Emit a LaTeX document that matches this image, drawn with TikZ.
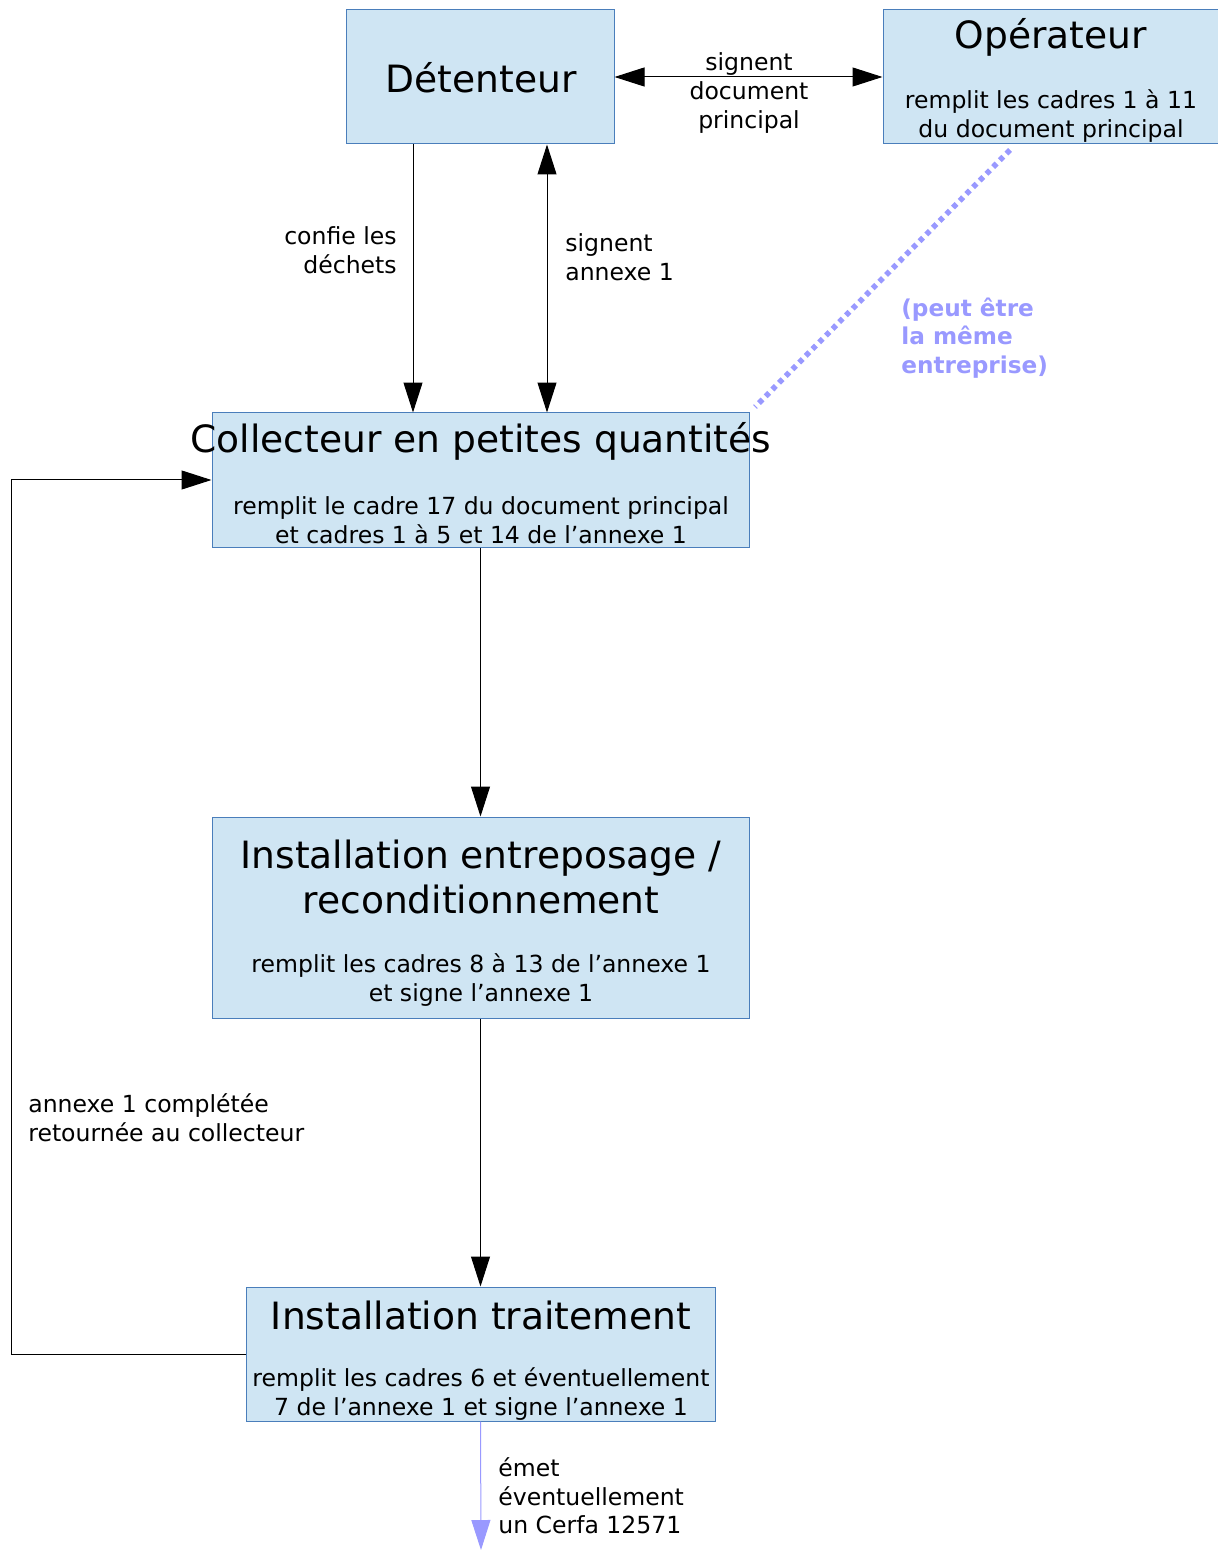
\documentclass[tikz,border=0pt]{standalone}
\usepackage{fontspec}
\setmainfont{DejaVu Sans}
\usetikzlibrary{arrows.meta,fit}

\definecolor{boxfill}{HTML}{CFE5F3}
\definecolor{boxline}{HTML}{4A7EBB}
\definecolor{lavender}{HTML}{9999FF}

\tikzset{
  box/.style={draw=boxline, fill=boxfill, line width=0.02cm, inner sep=0pt},
  title/.style={font=\fontsize{21.4}{25.6}\selectfont, align=center, inner sep=0pt},
  small/.style={font=\fontsize{13.4}{16.3}\selectfont, inner sep=0pt},
  conn/.style={line width=0.02cm},
}

\begin{document}
\begin{tikzpicture}[x=0.02cm, y=-0.02cm, >={Triangle[length=0.6cm,width=0.38cm]}]
\useasboundingbox (0,0) rectangle (1217,1550);

% boxes
\node (dete) [box, fit={(346,10) (614,144)}] {};
\node (oper) [box, fit={(883,10) (1218,144)}] {};
\node (coll) [box, fit={(212,413) (749,547)}] {};
\node (entr) [box, fit={(212,817) (749,1018)}] {};
\node (trait) [box, fit={(246,1287) (715,1421)}] {};

% box texts
\node (deteT) [title] at (481,78) {Détenteur};
\node (operT) [title] at (1051,37) {Opérateur};
\node (operS) [small, align=center] at (1051,116) {remplit les cadres 1 à 11\\du document principal};
\node (collT) [title] at (481,441) {Collecteur en petites quantités};
\node (collS) [small, align=center] at (481,520) {remplit le cadre 17 du document principal\\et cadres 1 à 5 et 14 de l’annexe 1};
\node (entrT) [title] at (481,877) {Installation entreposage /\\reconditionnement};
\node (entrS) [small, align=center] at (481,980) {remplit les cadres 8 à 13 de l’annexe 1\\et signe l’annexe 1};
\node (traitT) [title] at (481,1315) {Installation traitement};
\node (traitS) [small, align=center] at (481,1394) {remplit les cadres 6 et éventuellement\\7 de l’annexe 1 et signe l’annexe 1};

% connectors
\coordinate (xa) at (413,0);
\coordinate (xb) at (547,0);
\coordinate (ret) at (11,0);
\coordinate (cerfa) at (481,1550);
\coordinate (d1) at (1010,150);
\coordinate (d2) at (755,407);

\draw[conn, <->] (dete.east) -- (oper.west);
\draw[conn, ->] (dete.south -| xa) -- (coll.north -| xa);
\draw[conn, <->] (dete.south -| xb) -- (coll.north -| xb);
\draw[conn, ->] (coll) -- (entr);
\draw[conn, ->] (entr) -- (trait);
\draw[conn, ->] (trait.west) -| (ret |- coll.west) -- (coll.west);
\draw[conn, ->, lavender] (trait.south) -- (cerfa);
\draw[lavender, line width=0.11cm, dash pattern=on 0.1cm off 0.09cm] (d1) -- (d2);

% connector labels
\node (lab1) [small, align=center] at (749,93) {signent\\document\\principal};
\node (lab2) [small, align=right, anchor=east] at (397,250) {confie les\\déchets};
\node (lab3) [small, align=left, anchor=west] at (565,257) {signent\\annexe 1};
\node (lab4) [small, align=left, anchor=west, text=lavender, font=\fontsize{13.2}{16.3}\selectfont\bfseries] at (901,338) {(peut être\\la même\\entreprise)};
\node (lab5) [small, align=left, anchor=west] at (28,1118) {annexe 1 complétée\\retournée au collecteur};
\node (lab6) [small, align=left, anchor=west] at (498,1496) {émet\\éventuellement\\un Cerfa 12571};
\end{tikzpicture}
\end{document}
